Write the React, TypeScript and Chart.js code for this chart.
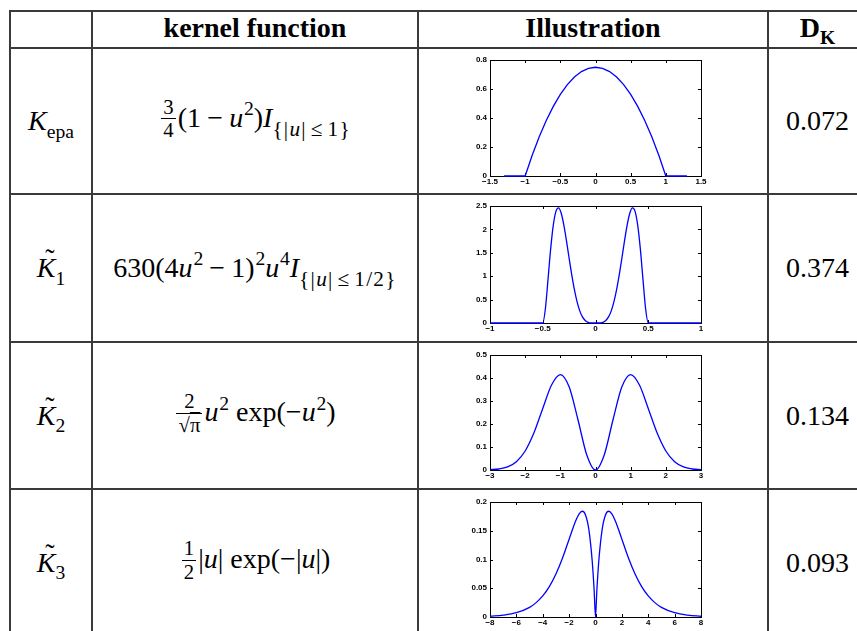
import React, { useEffect, useRef } from "react";
import { Chart, registerables } from "chart.js";

Chart.register(...registerables);

// Epanechnikov kernel samples
const epaU = [-1.3, -1, -0.9, -0.8, -0.7, -0.6, -0.5, -0.4, -0.3, -0.2, -0.1, 0, 0.1, 0.2, 0.3, 0.4, 0.5, 0.6, 0.7, 0.8, 0.9, 1, 1.3];
const epaK = [0, 0, 0.1425, 0.27, 0.3825, 0.48, 0.5625, 0.63, 0.6825, 0.72, 0.7425, 0.75, 0.7425, 0.72, 0.6825, 0.63, 0.5625, 0.48, 0.3825, 0.27, 0.1425, 0, 0];
const epaXTicks = [-1.5, -1, -0.5, 0, 0.5, 1, 1.5];
const epaYTicks = [0, 0.2, 0.4, 0.6, 0.8];

// K~1 samples
const k1U = [-1, -0.5, -0.475, -0.45, -0.425, -0.4, -0.375, -0.35, -0.325, -0.3, -0.275, -0.25, -0.225, -0.2, -0.175, -0.15, -0.125, -0.1, -0.075, -0.05, 0, 0.05, 0.075, 0.1, 0.125, 0.15, 0.175, 0.2, 0.225, 0.25, 0.275, 0.3, 0.325, 0.35, 0.375, 0.4, 0.425, 0.45, 0.475, 0.5, 1];
const k1K = [0, 0, 0.305, 0.933, 1.583, 2.09, 2.385, 2.459, 2.344, 2.09, 1.753, 1.384, 1.027, 0.711, 0.455, 0.264, 0.135, 0.058, 0.019, 0.004, 0, 0.004, 0.019, 0.058, 0.135, 0.264, 0.455, 0.711, 1.027, 1.384, 1.753, 2.09, 2.344, 2.459, 2.385, 2.09, 1.583, 0.933, 0.305, 0, 0];
const k1XTicks = [-1, -0.5, 0, 0.5, 1];
const k1YTicks = [0, 0.5, 1, 1.5, 2, 2.5];

// K~2 samples
const k2U = [-3, -2.75, -2.5, -2.25, -2, -1.75, -1.5, -1.25, -1, -0.75, -0.5, -0.25, 0, 0.25, 0.5, 0.75, 1, 1.25, 1.5, 1.75, 2, 2.25, 2.5, 2.75, 3];
const k2K = [0.0013, 0.0044, 0.0136, 0.0362, 0.0827, 0.1616, 0.2676, 0.3696, 0.4151, 0.3617, 0.2197, 0.0663, 0, 0.0663, 0.2197, 0.3617, 0.4151, 0.3696, 0.2676, 0.1616, 0.0827, 0.0362, 0.0136, 0.0044, 0.0013];
const k2XTicks = [-3, -2, -1, 0, 1, 2, 3];
const k2YTicks = [0, 0.1, 0.2, 0.3, 0.4, 0.5];

// K~3 samples
const k3U = [-8, -7, -6, -5, -4.5, -4, -3.5, -3, -2.5, -2, -1.5, -1.25, -1, -0.75, -0.5, -0.25, -0.1, 0, 0.1, 0.25, 0.5, 0.75, 1, 1.25, 1.5, 2, 2.5, 3, 3.5, 4, 4.5, 5, 6, 7, 8];
const k3K = [0.0013, 0.0032, 0.0074, 0.0168, 0.025, 0.0366, 0.0528, 0.0747, 0.1026, 0.1353, 0.1674, 0.1791, 0.1839, 0.1771, 0.1516, 0.0974, 0.0452, 0, 0.0452, 0.0974, 0.1516, 0.1771, 0.1839, 0.1791, 0.1674, 0.1353, 0.1026, 0.0747, 0.0528, 0.0366, 0.025, 0.0168, 0.0074, 0.0032, 0.0013];
const k3XTicks = [-8, -6, -4, -2, 0, 2, 4, 6, 8];
const k3YTicks = [0, 0.05, 0.1, 0.15, 0.2];

const dkValues = ["0.072", "0.374", "0.134", "0.093"];

const SERIF = '"Liberation Serif", "Times New Roman", serif';
const TICK_FONT = { family: '"Liberation Sans", Arial, Helvetica, sans-serif', size: 8, weight: "bold" as const };

const AXIS_W = 38;
const AXIS_H = 16;
const PAD_T = 8;
const PAD_R = 11;
const CANVAS_LEFT = 452;
const CANVAS_W = 260;

const fmtTick = (v: number | string) => {
  const n = Math.round(Number(v) * 10000) / 10000;
  return n < 0 ? "\u2212" + String(-n) : String(n);
};

// Box around the plot area with short inward tick marks on all four sides
const framePlugin = {
  id: "frame",
  beforeDatasetsDraw(chart: any) {
    const { ctx, chartArea: a, scales } = chart;
    const tl = 3;
    ctx.save();
    ctx.strokeStyle = "#000";
    ctx.lineWidth = 1;
    ctx.strokeRect(Math.round(a.left) + 0.5, Math.round(a.top) + 0.5, Math.round(a.right - a.left), Math.round(a.bottom - a.top));
    ctx.beginPath();
    for (const t of scales.x.ticks) {
      const px = Math.round(scales.x.getPixelForValue(t.value)) + 0.5;
      ctx.moveTo(px, a.bottom);
      ctx.lineTo(px, a.bottom - tl);
      ctx.moveTo(px, a.top);
      ctx.lineTo(px, a.top + tl);
    }
    for (const t of scales.y.ticks) {
      const py = Math.round(scales.y.getPixelForValue(t.value)) + 0.5;
      ctx.moveTo(a.left, py);
      ctx.lineTo(a.left + tl, py);
      ctx.moveTo(a.right, py);
      ctx.lineTo(a.right - tl, py);
    }
    ctx.stroke();
    ctx.restore();
  },
};

type PanelProps = {
  u: number[];
  k: number[];
  xTicks: number[];
  yTicks: number[];
  smooth: boolean;
  plotTop: number;
  plotH: number;
};

function KernelPlot({ u, k, xTicks, yTicks, smooth, plotTop, plotH }: PanelProps) {
  const ref = useRef<HTMLCanvasElement>(null);
  const canvasH = PAD_T + plotH + AXIS_H;

  useEffect(() => {
    const chart = new Chart(ref.current as HTMLCanvasElement, {
      type: "line",
      data: {
        datasets: [
          {
            data: u.map((x, i) => ({ x, y: k[i] })),
            borderColor: "#0000ff",
            borderWidth: 1.3,
            pointRadius: 0,
            fill: false,
            tension: smooth ? 0.4 : 0,
            cubicInterpolationMode: smooth ? "monotone" : "default",
            clip: false as any,
          },
        ],
      },
      options: {
        animation: false,
        responsive: false,
        devicePixelRatio: 1,
        events: [],
        layout: { padding: { top: PAD_T, right: PAD_R, left: 0, bottom: 0 } },
        plugins: { legend: { display: false }, tooltip: { enabled: false } },
        scales: {
          x: {
            type: "linear",
            min: xTicks[0],
            max: xTicks[xTicks.length - 1],
            afterBuildTicks: (s: any) => {
              s.ticks = xTicks.map((value) => ({ value }));
            },
            afterFit: (s: any) => {
              s.height = AXIS_H;
            },
            grid: { display: false, drawTicks: false },
            border: { display: false },
            ticks: { autoSkip: false, maxRotation: 0, padding: 1, color: "#000", font: TICK_FONT, callback: fmtTick },
          },
          y: {
            type: "linear",
            min: yTicks[0],
            max: yTicks[yTicks.length - 1],
            afterBuildTicks: (s: any) => {
              s.ticks = yTicks.map((value) => ({ value }));
            },
            afterFit: (s: any) => {
              s.width = AXIS_W;
            },
            grid: { display: false, drawTicks: false },
            border: { display: false },
            ticks: { autoSkip: false, padding: 3, color: "#000", font: TICK_FONT, callback: fmtTick },
          },
        },
      },
      plugins: [framePlugin],
    } as any);
    return () => chart.destroy();
  }, []);

  return (
    <canvas
      ref={ref}
      width={CANVAS_W}
      height={canvasH}
      style={{ position: "absolute", left: CANVAS_LEFT, top: plotTop - PAD_T, width: CANVAS_W, height: canvasH }}
    />
  );
}

// ---- math typesetting helpers ----
const I = ({ children }: { children: React.ReactNode }) => <span style={{ fontStyle: "italic" }}>{children}</span>;

const Sup = ({ children }: { children: React.ReactNode }) => (
  <span style={{ fontSize: "0.7em", position: "relative", top: "-0.62em", marginLeft: "0.04em" }}>{children}</span>
);

const Sub = ({ children, wide }: { children: React.ReactNode; wide?: boolean }) => (
  <span style={{ fontSize: wide ? "0.76em" : "0.7em", position: "relative", top: "0.4em", letterSpacing: wide ? "0.06em" : undefined }}>
    {children}
  </span>
);

const Rel = ({ children }: { children: React.ReactNode }) => <span style={{ margin: "0 0.18em" }}>{children}</span>;

const Op = ({ children }: { children: React.ReactNode }) => <span style={{ margin: "0 0.22em" }}>{children}</span>;

const Frac = ({ n, d }: { n: React.ReactNode; d: React.ReactNode }) => (
  <span
    style={{
      display: "inline-flex",
      flexDirection: "column",
      alignItems: "center",
      verticalAlign: "middle",
      fontSize: "0.74em",
      lineHeight: 1,
      margin: "0 0.1em",
      position: "relative",
      top: "-0.1em",
    }}
  >
    <span style={{ padding: "0 0.1em 0.04em" }}>{n}</span>
    <span style={{ borderTop: "1px solid #000", padding: "0.04em 0.1em 0", alignSelf: "stretch", textAlign: "center" }}>{d}</span>
  </span>
);

const Tilde = ({ sub }: { sub: string }) => (
  <span>
    <span style={{ position: "relative", display: "inline-block", fontStyle: "italic" }}>
      K
      <span style={{ position: "absolute", left: "0.3em", top: "-0.32em", fontStyle: "normal" }}>{"\u02DC"}</span>
    </span>
    <Sub>{sub}</Sub>
  </span>
);

const rowLabels: React.ReactNode[] = [
  <span>
    <I>K</I>
    <Sub>epa</Sub>
  </span>,
  <Tilde sub="1" />,
  <Tilde sub="2" />,
  <Tilde sub="3" />,
];

const formulas: React.ReactNode[] = [
  <span>
    <Frac n="3" d="4" />
    (1<Op>{"\u2212"}</Op>
    <I>u</I>
    <Sup>2</Sup>)<I>I</I>
    <Sub wide>
      {"{|"}
      <I>u</I>
      {"|"}
      <Rel>{"\u2264"}</Rel>
      {"1}"}
    </Sub>
  </span>,
  <span>
    630(4<I>u</I>
    <Sup>2</Sup>
    <Op>{"\u2212"}</Op>1)<Sup>2</Sup>
    <I>u</I>
    <Sup>4</Sup>
    <I>I</I>
    <Sub wide>
      {"{|"}
      <I>u</I>
      {"|"}
      <Rel>{"\u2264"}</Rel>
      {"1/2}"}
    </Sub>
  </span>,
  <span>
    <Frac
      n="2"
      d={
        <span>
          {"\u221A"}
          <span style={{ textDecoration: "overline" }}>{"\u03C0"}</span>
        </span>
      }
    />
    <I>u</I>
    <Sup>2</Sup> exp({"\u2212"}
    <I>u</I>
    <Sup>2</Sup>)
  </span>,
  <span>
    <Frac n="1" d="2" />
    |<I>u</I>| exp({"\u2212"}|<I>u</I>|)
  </span>,
];

const plots: PanelProps[] = [
  { u: epaU, k: epaK, xTicks: epaXTicks, yTicks: epaYTicks, smooth: false, plotTop: 60, plotH: 116 },
  { u: k1U, k: k1K, xTicks: k1XTicks, yTicks: k1YTicks, smooth: true, plotTop: 206, plotH: 117 },
  { u: k2U, k: k2K, xTicks: k2XTicks, yTicks: k2YTicks, smooth: true, plotTop: 355, plotH: 115 },
  { u: k3U, k: k3K, xTicks: k3XTicks, yTicks: k3YTicks, smooth: true, plotTop: 502, plotH: 115 },
];

// table grid
const colX = [10, 92, 418, 768, 867];
const rowY = [11, 48, 194, 342, 489, 636];
const LINE = 2;
const LINE_COLOR = "#3a3a3a";

function Cell({ x0, x1, y0, y1, children, style }: { x0: number; x1: number; y0: number; y1: number; children: React.ReactNode; style?: React.CSSProperties }) {
  return (
    <div
      style={{
        position: "absolute",
        left: x0,
        top: y0,
        width: x1 - x0,
        height: y1 - y0,
        display: "flex",
        alignItems: "center",
        justifyContent: "center",
        whiteSpace: "nowrap",
        ...style,
      }}
    >
      {children}
    </div>
  );
}

export default function App() {
  return (
    <div
      style={{
        position: "fixed",
        left: 0,
        top: 0,
        width: 857,
        height: 631,
        overflow: "hidden",
        background: "#fff",
        color: "#000",
        fontFamily: SERIF,
        fontSize: 28,
      }}
    >
      {rowY.slice(0, 5).map((y) => (
        <div key={"h" + y} style={{ position: "absolute", left: colX[0], top: y - 1, width: colX[4] - colX[0], height: LINE, background: LINE_COLOR }} />
      ))}
      {colX.map((x) => (
        <div key={"v" + x} style={{ position: "absolute", left: x - 1, top: rowY[0] - 1, width: LINE, height: 640 - rowY[0], background: LINE_COLOR }} />
      ))}

      <Cell x0={colX[1]} x1={colX[2]} y0={rowY[0]} y1={rowY[1]} style={{ fontWeight: "bold", marginTop: -2 }}>
        kernel function
      </Cell>
      <Cell x0={colX[2]} x1={colX[3]} y0={rowY[0]} y1={rowY[1]} style={{ fontWeight: "bold", marginTop: -2 }}>
        Illustration
      </Cell>
      <Cell x0={colX[3]} x1={colX[4]} y0={rowY[0]} y1={rowY[1]} style={{ fontWeight: "bold", marginTop: -2 }}>
        <span>
          D<Sub>K</Sub>
        </span>
      </Cell>

      {rowLabels.map((lab, i) => (
        <Cell key={"l" + i} x0={colX[0]} x1={colX[1]} y0={rowY[i + 1]} y1={rowY[i + 2]}>
          {lab}
        </Cell>
      ))}
      {formulas.map((f, i) => (
        <Cell key={"f" + i} x0={colX[1]} x1={colX[2]} y0={rowY[i + 1]} y1={rowY[i + 2]}>
          {f}
        </Cell>
      ))}
      {dkValues.map((v, i) => (
        <Cell key={"d" + i} x0={colX[3]} x1={colX[4]} y0={rowY[i + 1]} y1={rowY[i + 2]}>
          {v}
        </Cell>
      ))}

      {plots.map((p, i) => (
        <KernelPlot key={"p" + i} {...p} />
      ))}
    </div>
  );
}
